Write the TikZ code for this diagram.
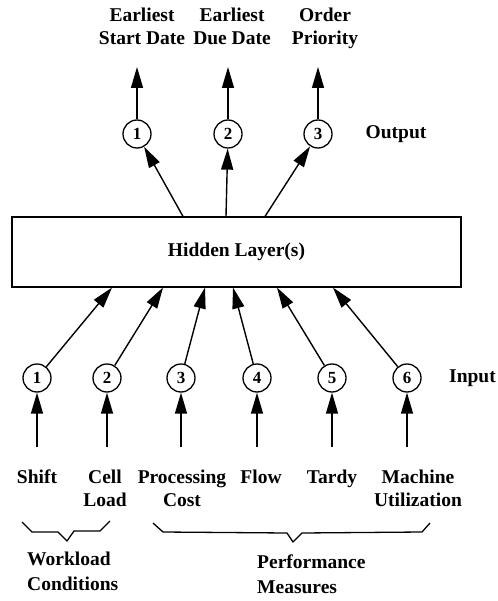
\documentclass[tikz,border=0pt]{standalone}
\usepackage{fontspec}
\setmainfont{Liberation Serif}
\usetikzlibrary{arrows.meta}

\tikzset{
  lbl/.style={font=\bfseries\fontsize{19.5}{22.5}\selectfont, inner sep=0pt, align=center},
  grp/.style={font=\bfseries\fontsize{19.5}{25}\selectfont, inner sep=0pt, align=left, anchor=north west},
  unit/.style={draw, circle, line width=1.3pt, minimum size=28pt, inner sep=0pt,
    font=\bfseries\fontsize{17}{17}\selectfont},
  arr/.style={line width=1.4pt, -{Triangle[length=21pt,width=12pt]}},
  brc/.style={line width=1.3pt, line join=round},
}

\begin{document}
\begin{tikzpicture}[x=1pt,y=-1pt]
\useasboundingbox (0,0) rectangle (497,601);

% hidden layer
\node[draw, lbl, line width=1.1pt, minimum width=449pt, minimum height=70pt] (hid) at (236.5,252) {Hidden Layer(s)};

% output side
\foreach \n/\x in {1/137,2/228,3/318} {
  \node[unit] (o\n) at (\x,134) {\n};
  \coordinate (e\n) at (\x,67);
  \draw[arr] (o\n) -- (e\n);
}
\node[lbl] (out) at (396,134) {Output};
\node[lbl, anchor=north] (esd) at (142,8) {Earliest\\Start Date};
\node[lbl, anchor=north] (edd) at (232,8) {Earliest\\Due Date};
\node[lbl, anchor=north] (op) at (325,8) {Order\\Priority};

\foreach \n/\dx in {1/-53.5,2/-10.5,3/28.5}
  \draw[arr] ([xshift=\dx pt]hid.north) -- (o\n);

% input side
\foreach \n/\x/\dx in {1/37/-124.5,2/107/-73.5,3/181/-31.5,4/257/-3.5,5/332/40.5,6/407/96.5} {
  \node[unit] (i\n) at (\x,378) {\n};
  \coordinate (s\n) at (\x,447);
  \draw[arr] (s\n) -- (i\n);
  \draw[arr] (i\n) -- ([xshift=\dx pt]hid.south);
}
\node[lbl, anchor=east] (in) at (496,378) {Input};

\node[lbl, anchor=north] (shift) at (37,470) {Shift};
\node[lbl, anchor=north] (load) at (105,470) {Cell\\Load};
\node[lbl, anchor=north] (cost) at (182,470) {Processing\\Cost};
\node[lbl, anchor=north] (flow) at (261,470) {Flow};
\node[lbl, anchor=north] (tardy) at (332,470) {Tardy};
\node[lbl, anchor=north] (util) at (418,470) {Machine\\Utilization};

% braces
\draw[brc] (22,522) -- (32,532) -- (58,532) -- (67,541) -- (74,531) -- (100,531) -- (110,521);
\draw[brc] (153,523) -- (163,532) -- (287,533) -- (293,542) -- (302,533) -- (422,532) -- (430,523);
\node[grp] (work) at (27,552) {Workload\\Conditions};
\node[grp] (perf) at (257,555) {Performance\\Measures};
\end{tikzpicture}
\end{document}
